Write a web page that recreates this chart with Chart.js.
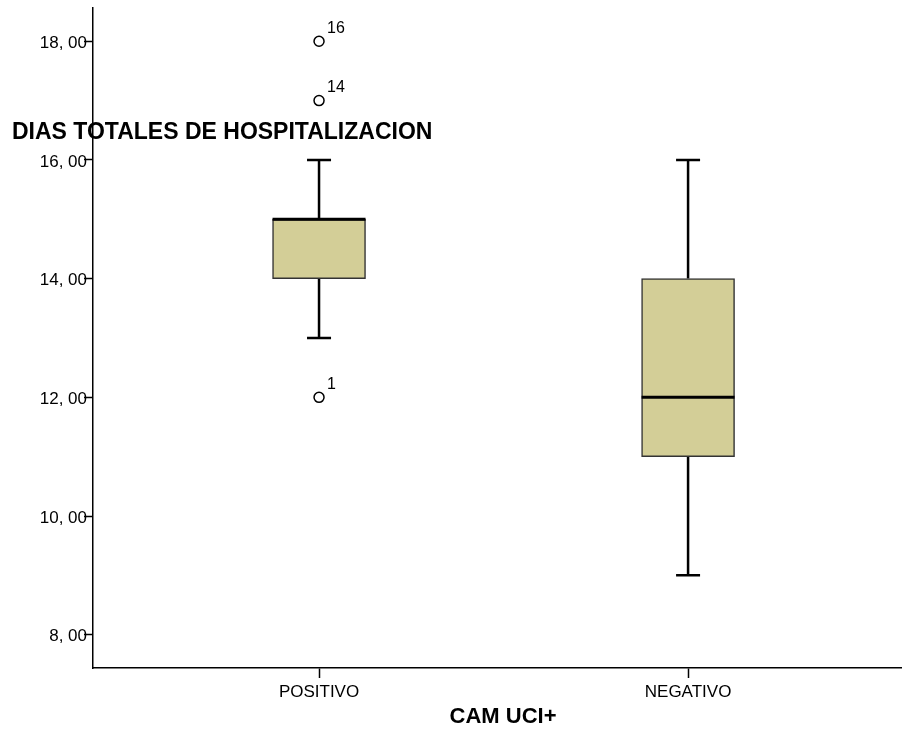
<!DOCTYPE html>
<html>
<head>
<meta charset="utf-8">
<script src="https://cdn.jsdelivr.net/npm/chart.js@4.4.1/dist/chart.umd.min.js"></script>
<style>
    body { margin: 0; background: #fff; overflow: hidden; }
    #wrap { width: 902px; height: 729px; position: relative; }
</style>
</head>
<body>
<div id="wrap"><canvas id="boxChart"></canvas></div>
<script>
const categories = ['POSITIVO', 'NEGATIVO'];
const whiskerLow = [13, 9];
const q1 = [14, 11];
const median = [15, 12];
const q3 = [15, 14];
const whiskerHigh = [16, 16];

// Valores atipicos: grupo, valor y numero de caso
const outlierGroup = [0, 0, 0];
const outlierValue = [12, 17, 18];
const outlierCase = ['1', '14', '16'];

const yTicks = [8, 10, 12, 14, 16, 18];

const yTitle = 'DIAS TOTALES DE HOSPITALIZACION';
const xTitle = 'CAM UCI+';

const FONT = 'Arial, "Liberation Sans", sans-serif';
const BOX_WIDTH = 93;
const CAP_WIDTH = 24;

// Bigotes y mediana dibujados con las escalas del grafico
const boxplotLines = {
    id: 'boxplotLines',
    beforeDatasetsDraw(chart) {
        const ctx = chart.ctx;
        const x = chart.scales.x;
        const y = chart.scales.y;
        ctx.save();
        ctx.strokeStyle = '#000';
        ctx.lineWidth = 2.5;
        categories.forEach((c, i) => {
            const px = x.getPixelForValue(i + 1);
            ctx.beginPath();
            ctx.moveTo(px, y.getPixelForValue(q3[i]));
            ctx.lineTo(px, y.getPixelForValue(whiskerHigh[i]));
            ctx.moveTo(px, y.getPixelForValue(q1[i]));
            ctx.lineTo(px, y.getPixelForValue(whiskerLow[i]));
            ctx.moveTo(px - CAP_WIDTH / 2, y.getPixelForValue(whiskerHigh[i]));
            ctx.lineTo(px + CAP_WIDTH / 2, y.getPixelForValue(whiskerHigh[i]));
            ctx.moveTo(px - CAP_WIDTH / 2, y.getPixelForValue(whiskerLow[i]));
            ctx.lineTo(px + CAP_WIDTH / 2, y.getPixelForValue(whiskerLow[i]));
            ctx.stroke();
        });
        ctx.restore();
    },
    afterDatasetsDraw(chart) {
        const ctx = chart.ctx;
        const x = chart.scales.x;
        const y = chart.scales.y;
        ctx.save();
        ctx.strokeStyle = '#000';
        ctx.lineWidth = 3;
        categories.forEach((c, i) => {
            const px = x.getPixelForValue(i + 1);
            const py = y.getPixelForValue(median[i]);
            ctx.beginPath();
            ctx.moveTo(px - BOX_WIDTH / 2, py);
            ctx.lineTo(px + BOX_WIDTH / 2, py);
            ctx.stroke();
        });

        // etiquetas de casos atipicos
        ctx.fillStyle = '#000';
        ctx.font = '16px ' + FONT;
        ctx.textAlign = 'left';
        ctx.textBaseline = 'middle';
        outlierValue.forEach((v, k) => {
            const px = x.getPixelForValue(outlierGroup[k] + 1);
            const py = y.getPixelForValue(v);
            ctx.fillText(outlierCase[k], px + 8, py - 13);
        });

        // titulos de los ejes
        ctx.font = 'bold 23px ' + FONT;
        ctx.textAlign = 'left';
        ctx.fillText(yTitle, 12, 133);
        ctx.font = 'bold 22px ' + FONT;
        ctx.textAlign = 'center';
        ctx.fillText(xTitle, 503, 717);
        ctx.restore();
    }
};

const ctx = document.getElementById('boxChart');

new Chart(ctx, {
    type: 'bar',
    data: {
        datasets: [
            {
                label: 'caja',
                data: categories.map((c, i) => ({ x: i + 1, y: [q1[i], q3[i]] })),
                backgroundColor: '#d3ce97',
                borderColor: '#333',
                borderWidth: 1.5,
                borderSkipped: false,
                barThickness: BOX_WIDTH
            },
            {
                type: 'scatter',
                label: 'atipicos',
                data: outlierValue.map((v, k) => ({ x: outlierGroup[k] + 1, y: v })),
                pointStyle: 'circle',
                pointRadius: 5,
                backgroundColor: 'rgba(255,255,255,0)',
                borderColor: '#000',
                borderWidth: 1.5
            }
        ]
    },
    options: {
        responsive: true,
        maintainAspectRatio: false,
        animation: false,
        layout: { autoPadding: false, padding: { top: 8, right: 1, left: 0, bottom: 0 } },
        plugins: {
            legend: { display: false },
            tooltip: { enabled: false }
        },
        scales: {
            x: {
                type: 'linear',
                min: 0.3875,
                max: 2.577,
                offset: false,
                afterBuildTicks: scale => {
                    scale.ticks = categories.map((c, i) => ({ value: i + 1 }));
                },
                afterFit: scale => {
                    scale.height = 61;
                    scale.paddingLeft = 0;
                    scale.paddingRight = 0;
                },
                grid: {
                    offset: false,
                    drawOnChartArea: false,
                    drawTicks: true,
                    tickLength: 10,
                    tickColor: '#000',
                    tickWidth: 1.5
                },
                border: { display: true, color: '#000', width: 1.5 },
                ticks: {
                    color: '#000',
                    font: { family: FONT, size: 17 },
                    padding: 4,
                    maxRotation: 0,
                    autoSkip: false,
                    callback: value => categories[value - 1] || ''
                }
            },
            y: {
                type: 'linear',
                min: 7.439,
                max: 18.56,
                afterBuildTicks: scale => {
                    scale.ticks = yTicks.map(v => ({ value: v }));
                },
                afterFit: scale => { scale.width = 93; },
                grid: {
                    drawOnChartArea: false,
                    drawTicks: true,
                    tickLength: 9,
                    tickColor: '#000',
                    tickWidth: 1.5
                },
                border: { display: true, color: '#000', width: 1.5 },
                ticks: {
                    color: '#000',
                    font: { family: FONT, size: 17 },
                    padding: -3,
                    labelOffset: 2,
                    callback: value => value.toFixed(2).replace('.', ', ')
                }
            }
        }
    },
    plugins: [boxplotLines]
});
</script>
</body>
</html>
